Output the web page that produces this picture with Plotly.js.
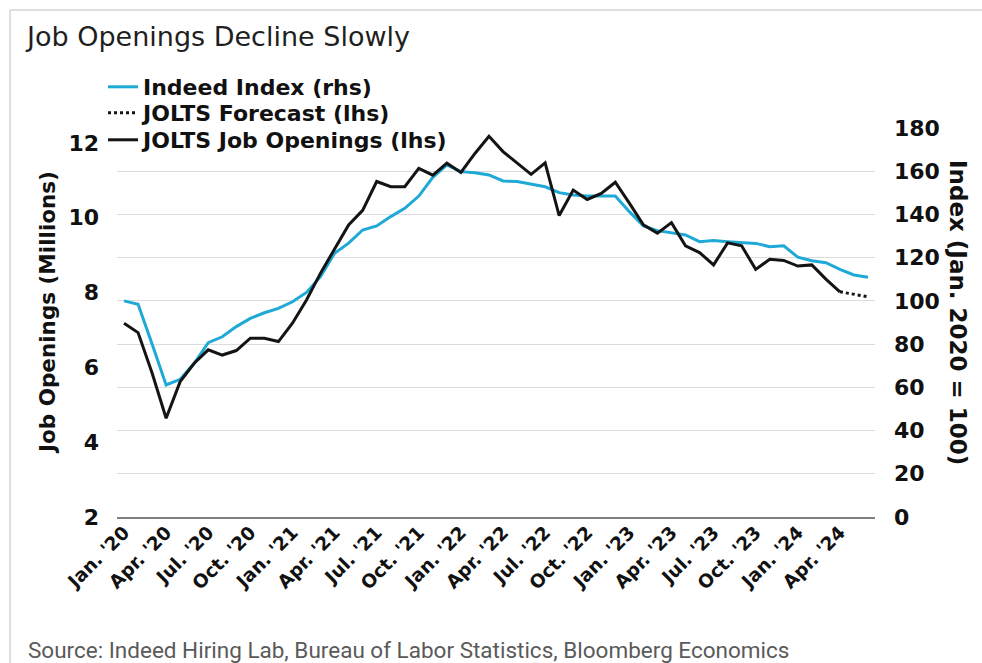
<!DOCTYPE html>
<html>
<head>
<meta charset="utf-8">
<script src="https://cdn.plot.ly/plotly-3.0.1.min.js"></script>
<style>
  html, body { margin: 0; padding: 0; background: #fff; }
  #chart { width: 982px; height: 663px; }
</style>
</head>
<body>
<div id="chart"></div>
<script>
// Monthly categories, Jan 2020 - Jun 2024
const months = [
  "Jan. '20","Feb. '20","Mar. '20","Apr. '20","May '20","Jun. '20","Jul. '20","Aug. '20","Sep. '20","Oct. '20","Nov. '20","Dec. '20",
  "Jan. '21","Feb. '21","Mar. '21","Apr. '21","May '21","Jun. '21","Jul. '21","Aug. '21","Sep. '21","Oct. '21","Nov. '21","Dec. '21",
  "Jan. '22","Feb. '22","Mar. '22","Apr. '22","May '22","Jun. '22","Jul. '22","Aug. '22","Sep. '22","Oct. '22","Nov. '22","Dec. '22",
  "Jan. '23","Feb. '23","Mar. '23","Apr. '23","May '23","Jun. '23","Jul. '23","Aug. '23","Sep. '23","Oct. '23","Nov. '23","Dec. '23",
  "Jan. '24","Feb. '24","Mar. '24","Apr. '24","May '24","Jun. '24"
];

// Indeed Job Postings Index (rhs), Jan. 2020 = 100
const indeedIndex = [
  100.0, 98.4, 80.0, 61.1, 63.7, 71.1, 80.7, 83.4, 88.1, 91.9, 94.5, 96.5,
  99.6, 103.9, 111.2, 122.0, 126.7, 132.8, 134.7, 139.0, 142.8, 148.5, 157.2, 162.9,
  159.8, 159.3, 158.3, 155.5, 155.2, 153.9, 152.8, 150.1, 149.0, 148.5, 148.5, 148.5,
  141.3, 134.7, 132.5, 131.5, 130.5, 127.4, 127.9, 127.4, 126.9, 126.6, 125.1, 125.5,
  120.2, 118.6, 117.7, 114.6, 112.0, 110.9
];

// JOLTS job openings (lhs), millions, Jan 2020 - Apr 2024
const joltsMonths = months.slice(0, 52);
const joltsOpenings = [
  7.18, 6.93, 5.85, 4.64, 5.62, 6.11, 6.47, 6.33, 6.45, 6.78, 6.78, 6.69,
  7.18, 7.80, 8.52, 9.18, 9.81, 10.20, 10.97, 10.83, 10.83, 11.32, 11.14, 11.46,
  11.21, 11.72, 12.18, 11.77, 11.46, 11.16, 11.47, 10.06, 10.74, 10.49, 10.65, 10.95,
  10.39, 9.81, 9.59, 9.87, 9.25, 9.07, 8.74, 9.33, 9.25, 8.62, 8.89, 8.86,
  8.71, 8.74, 8.36, 8.02
];

// JOLTS forecast (lhs)
const forecastMonths = ["Apr. '24", "May '24", "Jun. '24"];
const forecastValues = [8.02, 7.95, 7.89];

// Quarterly tick labels
const quarterLabels = [
  "Jan. '20","Apr. '20","Jul. '20","Oct. '20",
  "Jan. '21","Apr. '21","Jul. '21","Oct. '21",
  "Jan. '22","Apr. '22","Jul. '22","Oct. '22",
  "Jan. '23","Apr. '23","Jul. '23","Oct. '23",
  "Jan. '24","Apr. '24"
];
const leftTicks = [2, 4, 6, 8, 10, 12];
const rightTicks = [0, 20, 40, 60, 80, 100, 120, 140, 160, 180];

// tick marks at quarter boundaries (between category slots)
const boundaryTicks = [];
for (let i = 0; i <= months.length; i += 3) boundaryTicks.push(i - 0.5);

const BOLD = "DejaVu Sans, Verdana, sans-serif";
const BLUE = "#1fa9d6";
const BLACK = "#141414";

const traces = [
  {
    name: "Indeed Index (rhs)", x: months, y: indeedIndex, legend: "legend",
    type: "scatter", mode: "lines", xaxis: "x", yaxis: "y",
    line: { color: BLUE, width: 3 }
  },
  {
    name: "JOLTS Forecast (lhs)", x: forecastMonths, y: forecastValues, legend: "legend2",
    type: "scatter", mode: "lines", xaxis: "x", yaxis: "y2",
    line: { color: BLACK, width: 3, dash: "dot" }
  },
  {
    name: "JOLTS Job Openings (lhs)", x: joltsMonths, y: joltsOpenings, legend: "legend3",
    type: "scatter", mode: "lines", xaxis: "x", yaxis: "y2",
    line: { color: BLACK, width: 3 }
  }
];

const L = 117, R = 875, T = 128, B = 517;
const W = R - L, H = B - T;
const px = v => (v - L) / W;
const py = v => (B - v) / H;

const legendBase = yc => ({
  x: px(103), y: py(yc), xanchor: "left", yanchor: "middle",
  bgcolor: "rgba(0,0,0,0)", borderwidth: 0,
  font: { family: BOLD, size: 22, color: "#111", weight: "bold" }
});

const layout = {
  width: 982, height: 663,
  margin: { l: L, r: 982 - R, t: T, b: 663 - B, pad: 0 },
  paper_bgcolor: "#ffffff", plot_bgcolor: "#ffffff",
  showlegend: true,
  title: {
    text: "Job Openings Decline Slowly",
    x: 27 / 982, xref: "container", xanchor: "left",
    y: 1 - 37 / 663, yref: "container", yanchor: "middle",
    font: { family: "DejaVu Sans, Verdana, sans-serif", size: 27, color: "#1f1f1f" }
  },
  legend: legendBase(87),
  legend2: legendBase(113),
  legend3: legendBase(140),
  xaxis: {
    type: "category", categoryorder: "array", categoryarray: months,
    range: [-0.5, months.length - 0.5],
    tickmode: "array", tickvals: quarterLabels, ticktext: quarterLabels,
    ticks: "", tickangle: -45, ticklabelstandoff: -4,
    tickfont: { family: BOLD, size: 18.5, color: "#111", weight: "bold" },
    showline: true, linecolor: "#7f7f7f", linewidth: 1.5,
    showgrid: false, zeroline: false, anchor: "y", fixedrange: true
  },
  xaxis2: {
    type: "linear", overlaying: "x", anchor: "y", side: "bottom",
    range: [-0.5, months.length - 0.5],
    tickmode: "array", tickvals: boundaryTicks,
    ticks: "outside", ticklen: 6, tickwidth: 1.5, tickcolor: "#7f7f7f",
    showticklabels: false, showgrid: false, zeroline: false, showline: false
  },
  yaxis: {
    side: "right", range: [0, 180],
    tickmode: "array", tickvals: rightTicks,
    showgrid: true, gridcolor: "#dcdcdc", gridwidth: 1.2,
    zeroline: false, showline: false, ticks: "",
    ticklabelstandoff: 18,
    tickfont: { family: BOLD, size: 22, color: "#111", weight: "bold" }
  },
  yaxis2: {
    side: "left", overlaying: "y", range: [2, 12.4],
    tickmode: "array", tickvals: leftTicks,
    showgrid: false, zeroline: false, showline: false, ticks: "",
    ticklabelstandoff: 17,
    tickfont: { family: BOLD, size: 22, color: "#111", weight: "bold" }
  },
  annotations: [
    {
      text: "Job Openings (Millions)", xref: "paper", yref: "paper",
      x: px(47), y: py(313), xanchor: "center", yanchor: "middle",
      textangle: -90, showarrow: false,
      font: { family: BOLD, size: 21.5, color: "#111", weight: "bold" }
    },
    {
      text: "Index (Jan. 2020 = 100)", xref: "paper", yref: "paper",
      x: px(958), y: py(312), xanchor: "center", yanchor: "middle",
      textangle: 90, showarrow: false,
      font: { family: BOLD, size: 23, color: "#111", weight: "bold" }
    },
    {
      text: "Source: Indeed Hiring Lab, Bureau of Labor Statistics, Bloomberg Economics",
      xref: "paper", yref: "paper",
      x: px(26), y: py(650), xanchor: "left", yanchor: "middle",
      showarrow: false,
      font: { family: "Roboto, sans-serif", size: 22.5, color: "#5a5a5a" }
    }
  ],
  shapes: [
    { type: "line", xref: "paper", yref: "paper", x0: px(10), x1: px(990), y0: py(10), y1: py(10),
      line: { color: "#d4d4d4", width: 1.5 } },
    { type: "line", xref: "paper", yref: "paper", x0: px(10), x1: px(10), y0: py(10), y1: py(680),
      line: { color: "#d4d4d4", width: 1.5 } }
  ]
};

Plotly.newPlot("chart", traces, layout, { displayModeBar: false, staticPlot: true });
</script>
</body>
</html>
